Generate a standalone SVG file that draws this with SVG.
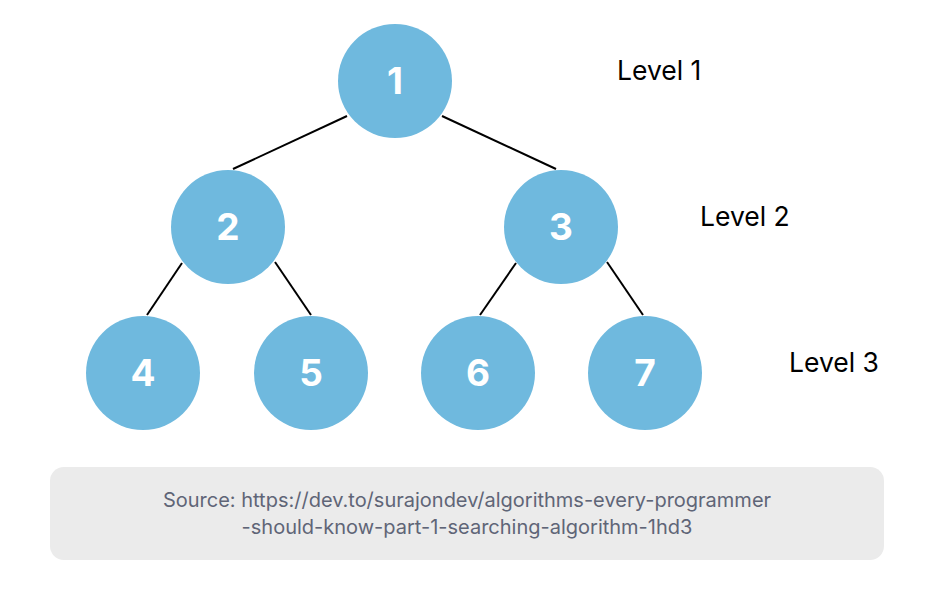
<svg xmlns="http://www.w3.org/2000/svg" width="951" height="605" viewBox="0 0 951 605">
<style>
.n circle{fill:#6fb9de}
.n text{fill:#fff;font-family:Inter,"Liberation Sans",sans-serif;font-weight:700;font-size:37px;text-anchor:middle}
.lvl{fill:#000;font-family:Inter,"Liberation Sans",sans-serif;font-size:26.5px}
.src{fill:#5f6577;font-family:Inter,"Liberation Sans",sans-serif;font-size:20px;text-anchor:middle}
#edges line{stroke:#000;stroke-width:2}
</style>
<rect width="951" height="605" fill="#fff"/>
<g id="edges">
<line x1="347" y1="116" x2="233" y2="169"/>
<line x1="442" y1="116" x2="556" y2="169"/>
<line x1="182" y1="263" x2="147" y2="315"/>
<line x1="275" y1="262" x2="311" y2="315"/>
<line x1="516" y1="263" x2="480" y2="315"/>
<line x1="607" y1="262" x2="643" y2="315"/>
</g>
<g id="n1" class="n"><circle cx="395" cy="81" r="57"/><text x="395" y="94">1</text></g>
<g id="n2" class="n"><circle cx="228" cy="227" r="57"/><text x="228" y="240">2</text></g>
<g id="n3" class="n"><circle cx="561" cy="227" r="57"/><text x="561" y="240">3</text></g>
<g id="n4" class="n"><circle cx="143" cy="373" r="57"/><text x="143" y="386">4</text></g>
<g id="n5" class="n"><circle cx="311" cy="373" r="57"/><text x="311" y="386">5</text></g>
<g id="n6" class="n"><circle cx="478" cy="373" r="57"/><text x="478" y="386">6</text></g>
<g id="n7" class="n"><circle cx="645" cy="373" r="57"/><text x="645" y="386">7</text></g>
<text class="lvl" x="617" y="80">Level 1</text>
<text class="lvl" x="700" y="226">Level 2</text>
<text class="lvl" x="789" y="372">Level 3</text>
<g id="source">
<rect x="50" y="467" width="834" height="93" rx="14" fill="#ebebeb"/>
<text class="src" x="467" y="507">Source: https://dev.to/surajondev/algorithms-every-programmer</text>
<text class="src" x="467" y="534">-should-know-part-1-searching-algorithm-1hd3</text>
</g>
</svg>
